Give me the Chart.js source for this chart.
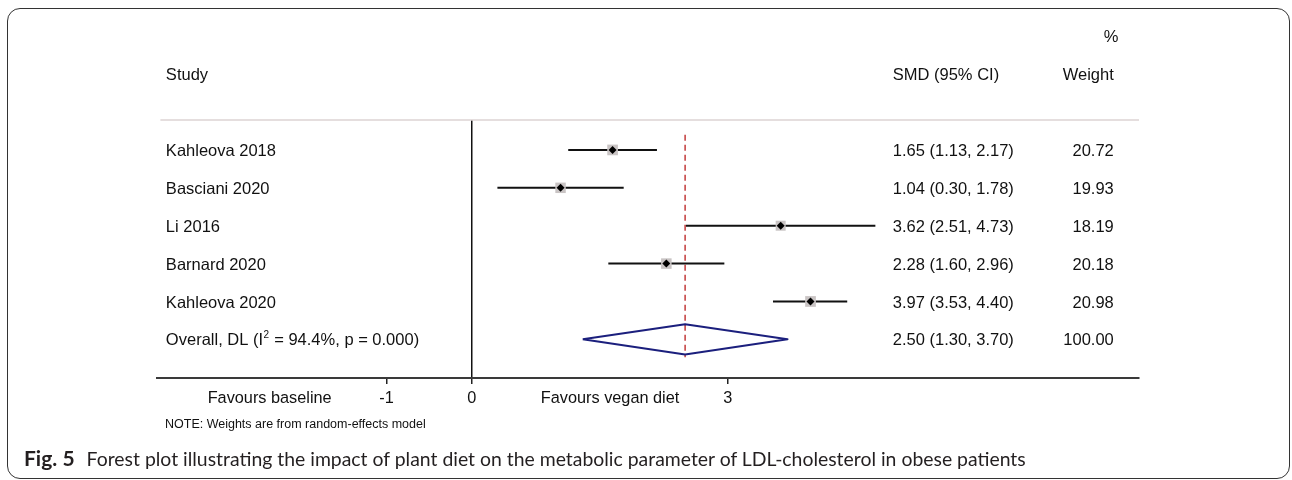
<!DOCTYPE html>
<html lang="en">
<head>
<meta charset="UTF-8">
<title>Forest plot - LDL-cholesterol</title>
<script src="https://cdn.jsdelivr.net/npm/chart.js"></script>
<style>
  body { margin: 0; background: #fff; }
  .frame { position: relative; width: 1292px; height: 480px; overflow: hidden; }
  .box {
    position: absolute; left: 7px; top: 8px; width: 1283px; height: 471px;
    box-sizing: border-box; border: 1px solid #333; border-radius: 13px;
  }
  canvas { position: absolute; left: 0; top: 0; }
  .note {
    position: absolute; left: 165px; top: 417px; white-space: nowrap;
    font: 12.5px "Liberation Sans", Arial, sans-serif; color: #111;
  }
  .caption {
    position: absolute; left: 24px; top: 445px; white-space: nowrap;
    font: 19.4px Lato, "Open Sans", sans-serif; color: #231f20;
  }
  .caption b { font-size: 21px; font-weight: 700; margin-right: 12px; }
</style>
</head>
<body>
<div class="frame">
  <canvas id="forest" width="1292" height="480"></canvas>
  <div class="box"></div>
  <div class="note">NOTE: Weights are from random-effects model</div>
  <div class="caption"><b>Fig. 5</b>Forest plot illustrating the impact of plant diet on the metabolic parameter of LDL-cholesterol in obese patients</div>
</div>

<script>
  // study data (SMD, 95% CI, % weight)
  const studies = ['Kahleova 2018', 'Basciani 2020', 'Li 2016', 'Barnard 2020', 'Kahleova 2020'];
  const smd = [1.65, 1.04, 3.62, 2.28, 3.97];
  const ciLow = [1.13, 0.30, 2.51, 1.60, 3.53];
  const ciHigh = [2.17, 1.78, 4.73, 2.96, 4.40];
  const weights = [20.72, 19.93, 18.19, 20.18, 20.98];

  // pooled estimate
  const overallEst = 2.50;
  const overallLow = 1.30;
  const overallHigh = 3.70;
  const overallWeight = 100.00;

  // x axis: numeric ticks plus the two "favours" captions
  const axisTickValues = [-2.37, -1, 0, 1.62, 3];
  const axisTickLabels = ['Favours baseline', '-1', '0', 'Favours vegan diet', '3'];

  const FONT = '"Liberation Sans", Arial, sans-serif';
  const overallRow = studies.length;
  const fmt = v => v.toFixed(2);

  const datasets = [];

  // confidence interval lines
  studies.forEach((s, i) => {
    datasets.push({
      data: [{ x: ciLow[i], y: i }, { x: ciHigh[i], y: i }],
      showLine: true, borderColor: '#111', borderWidth: 2,
      pointRadius: 0, order: 4
    });
  });

  // weight boxes
  datasets.push({
    data: smd.map((v, i) => ({ x: v, y: i })),
    pointStyle: 'rect',
    pointRadius: weights.map(w => 7.5 * Math.sqrt(w / 20.5)),
    backgroundColor: '#c9c4c4', borderWidth: 0, order: 3
  });

  // point estimates
  datasets.push({
    data: smd.map((v, i) => ({ x: v, y: i })),
    pointStyle: 'rectRot', pointRadius: 4,
    backgroundColor: '#000', borderWidth: 0, order: 1
  });

  // pooled diamond
  datasets.push({
    data: [
      { x: overallLow, y: overallRow },
      { x: overallEst, y: overallRow - 0.4 },
      { x: overallHigh, y: overallRow },
      { x: overallEst, y: overallRow + 0.4 },
      { x: overallLow, y: overallRow }
    ],
    showLine: true, borderColor: '#1b1f7d', borderWidth: 2,
    borderJoinStyle: 'round', pointRadius: 0, tension: 0, order: 2
  });

  // pooled estimate reference line
  datasets.push({
    data: [{ x: overallEst, y: -0.4 }, { x: overallEst, y: overallRow + 0.47 }],
    showLine: true, borderColor: '#c23b3b', borderWidth: 1.5,
    borderDash: [6, 4], pointRadius: 0, order: 5
  });

  const textColumns = {
    study: -3.586,
    ci: 4.934,
    weight: 7.524,
    pct: 7.58
  };

  const tablePlugin = {
    id: 'table',
    beforeDatasetsDraw(chart) {
      const c = chart.ctx, x = chart.scales.x;
      c.save();
      c.strokeStyle = '#dcd3d3';
      c.lineWidth = 1.5;
      c.beginPath();
      c.moveTo(x.getPixelForValue(-3.65), chart.chartArea.top);
      c.lineTo(chart.chartArea.right, chart.chartArea.top);
      c.stroke();
      c.restore();
    },
    afterDraw(chart) {
      const c = chart.ctx, x = chart.scales.x, y = chart.scales.y;
      const dy = 1.5;
      c.save();
      c.fillStyle = '#111';
      c.textBaseline = 'middle';
      c.font = '16.5px ' + FONT;

      const put = (txt, col, row, align) => {
        c.textAlign = align;
        c.fillText(txt, x.getPixelForValue(textColumns[col]), y.getPixelForValue(row) + dy);
      };

      // headers
      put('%', 'pct', -3, 'right');
      put('Study', 'study', -2, 'left');
      put('SMD (95% CI)', 'ci', -2, 'left');
      put('Weight', 'weight', -2, 'right');

      studies.forEach((s, i) => {
        put(s, 'study', i, 'left');
        put(`${fmt(smd[i])} (${fmt(ciLow[i])}, ${fmt(ciHigh[i])})`, 'ci', i, 'left');
        put(fmt(weights[i]), 'weight', i, 'right');
      });

      // overall row with superscript 2
      const yo = y.getPixelForValue(overallRow) + dy;
      let px = x.getPixelForValue(textColumns.study);
      c.textAlign = 'left';
      const a = 'Overall, DL (I';
      c.fillText(a, px, yo);
      px += c.measureText(a).width;
      c.font = '10px ' + FONT;
      c.fillText('2', px + 0.5, yo - 6);
      px += c.measureText('2').width + 1;
      c.font = '16.5px ' + FONT;
      c.fillText(' = 94.4%, p = 0.000)', px, yo);

      put(`${fmt(overallEst)} (${fmt(overallLow)}, ${fmt(overallHigh)})`, 'ci', overallRow, 'left');
      put(fmt(overallWeight), 'weight', overallRow, 'right');
      c.restore();
    }
  };

  new Chart(document.getElementById('forest'), {
    type: 'scatter',
    data: { datasets },
    options: {
      responsive: false,
      animation: false,
      devicePixelRatio: 1,
      layout: { padding: { left: 157, right: 153, top: 120, bottom: 62 } },
      plugins: { legend: { display: false }, tooltip: { enabled: false } },
      scales: {
        x: {
          type: 'linear',
          min: -3.69,
          max: 7.82,
          afterBuildTicks: s => { s.ticks = axisTickValues.map(v => ({ value: v })); },
          afterFit: s => { s.height = 40; },
          ticks: {
            autoSkip: false, maxRotation: 0, padding: 5,
            color: '#111', font: { family: FONT, size: 16.3 },
            callback: (v, i) => axisTickLabels[i]
          },
          grid: {
            drawOnChartArea: true, drawTicks: true, tickLength: 6, lineWidth: 1.5,
            color: ctx => (ctx.tick && ctx.tick.value === 0) ? '#111' : 'rgba(0,0,0,0)',
            tickColor: ctx => isNaN(Number(axisTickLabels[ctx.index])) ? 'rgba(0,0,0,0)' : '#222'
          },
          border: { display: true, color: '#3a3a3a', width: 2 }
        },
        y: {
          type: 'linear', reverse: true, min: -0.79, max: 6.02, display: false
        }
      }
    },
    plugins: [tablePlugin]
  });
</script>
</body>
</html>
